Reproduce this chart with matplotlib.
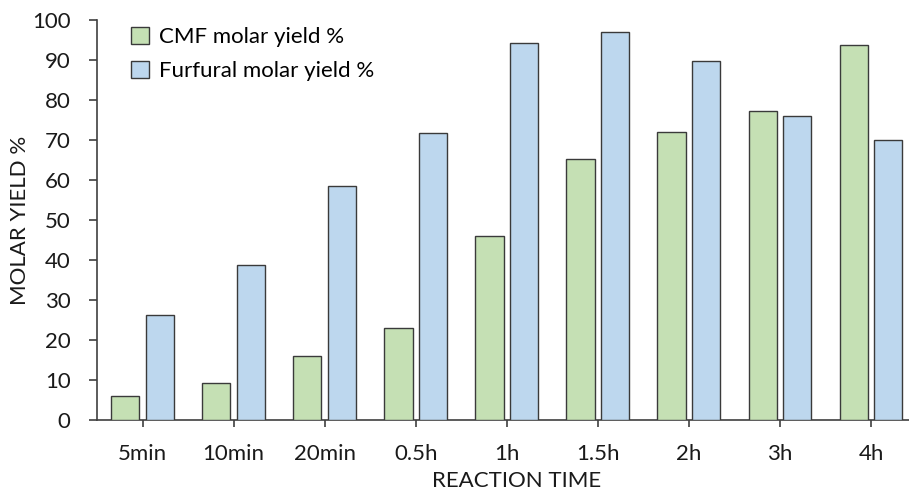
import matplotlib
matplotlib.use("Agg")
import matplotlib.pyplot as plt
import numpy as np

categories = ["5min", "10min", "20min", "0.5h", "1h", "1.5h", "2h", "3h", "4h"]
cmf_yield = [6.1, 9.3, 16.0, 23.0, 46.1, 65.2, 72.0, 77.3, 93.7]
furfural_yield = [26.2, 38.8, 58.6, 71.8, 94.2, 96.9, 89.7, 76.0, 70.1]
series_names = ["CMF molar yield %", "Furfural molar yield %"]
y_ticks = list(range(0, 101, 10))

plt.rcParams['font.family'] = ['Lato', 'DejaVu Sans']
FS = 16

W, H = 909, 492
fig = plt.figure(figsize=(W / 100, H / 100), dpi=100)
left, right, bottom, top = 97, 916.5, 420, 20
ax = fig.add_axes([left / W, 1 - bottom / H, (right - left) / W, (bottom - top) / H])

x = np.arange(len(categories))
w = 0.31
edge = "#3a3a3a"
ax.bar(x - 0.19, cmf_yield, width=w, color="#C5E0B4", edgecolor=edge, linewidth=1.0,
       label=series_names[0], zorder=3)
ax.bar(x + 0.19, furfural_yield, width=w, color="#BDD7EE", edgecolor=edge, linewidth=1.0,
       label=series_names[1], zorder=3)

ax.set_xlim(-0.5, 8.5)
ax.set_ylim(0, 100)
ax.set_yticks(y_ticks)
ax.set_xticks(x)
ax.set_xticklabels(categories)
for s in ["top", "right"]:
    ax.spines[s].set_visible(False)
for s in ["left", "bottom"]:
    ax.spines[s].set_color("#404040")
    ax.spines[s].set_linewidth(1.2)
ax.tick_params(axis="both", direction="out", width=1.2, color="#404040",
               labelsize=FS, labelcolor="#1a1a1a")
ax.tick_params(axis="x", length=5, pad=12)
ax.tick_params(axis="y", length=6, pad=13)

ax.set_ylabel("MOLAR YIELD %", fontsize=FS, color="#1a1a1a", va="center")
ax.yaxis.set_label_coords(-(left - 20) / (right - left), 0.5)
ax.set_xlabel("REACTION TIME", fontsize=FS, color="#1a1a1a", va="center")
ax.xaxis.set_label_coords((517 - left) / (right - left), -(481 - bottom) / (bottom - top))

leg = ax.legend(loc="upper left", bbox_to_anchor=(131 / W, 1 - 27 / H),
                bbox_transform=fig.transFigure, frameon=False, fontsize=FS,
                handlelength=0.8, handleheight=0.8, handletextpad=0.45,
                labelspacing=0.6, borderaxespad=0, borderpad=0)
for p in leg.get_patches():
    p.set_linewidth(1.0)

fig.savefig("out.png", dpi=100)
